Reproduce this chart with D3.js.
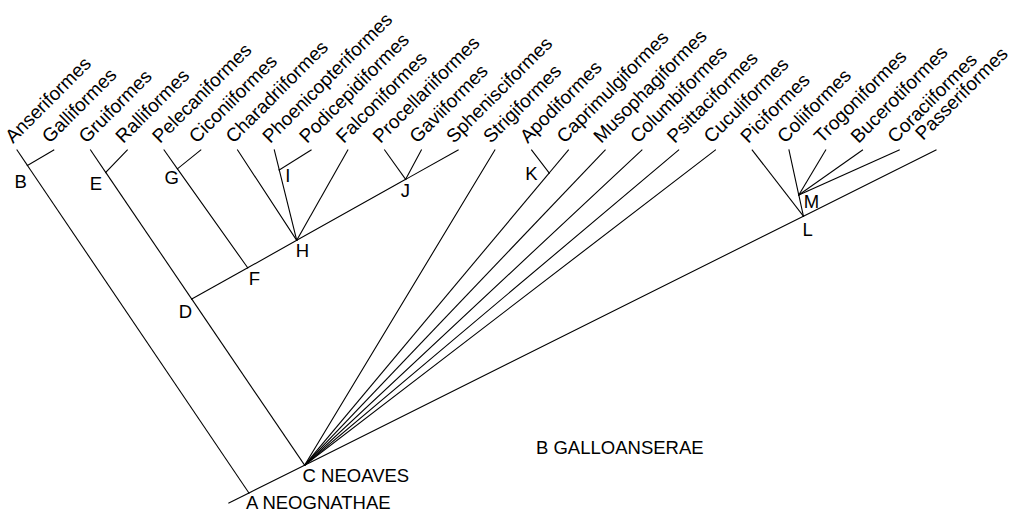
<!DOCTYPE html>
<html>
<head>
<meta charset="utf-8">
<script src="https://cdn.jsdelivr.net/npm/d3@7"></script>
<style>
  html, body { margin: 0; padding: 0; background: #fff; }
  svg { display: block; }
  text { font-family: "Liberation Sans", Arial, Helvetica, sans-serif; fill: #000; }
</style>
</head>
<body>
<svg id="chart" width="1012" height="514"></svg>
<script>
// ---------- DATA ----------
// Terminal taxa, left to right (tip index = position in this list)
const tipNames = [
  "Anseriformes","Galliformes","Gruiformes","Ralliformes","Pelecaniformes",
  "Ciconiiformes","Charadriiformes","Phoenicopteriformes","Podicepidiformes",
  "Falconiformes","Procellariiformes","Gaviiformes","Sphenisciformes",
  "Strigiformes","Apodiformes","Caprimulgiformes","Musophagiformes",
  "Columbiformes","Psittaciformes","Cuculiformes","Piciformes","Coliiformes",
  "Trogoniformes","Bucerotiformes","Coraciiformes","Passeriformes"
];
// Parent node of each tip (parallel to tipNames)
const tipParents = [
  "B","B","E","E","G","G","H","I","I","H","J","J","J",
  "C","K","K","C","C","C","C","L","M","M","M","M","L"
];
// Internal nodes
const nodeNames   = ["A","B","C","D","E","F","G","H","I","J","K","L","M"];
const nodeParents = [null,"A","A","C","D","D","F","F","H","H","C","C","L"];
// Each internal node sits on the branch from its parent toward this tip ...
const nodeToward  = [null,"Anseriformes","Passeriformes","Gruiformes","Gruiformes",
  "Sphenisciformes","Pelecaniformes","Sphenisciformes","Phoenicopteriformes",
  "Sphenisciformes","Caprimulgiformes","Passeriformes","Coliiformes"];
// ... at this fraction of that branch's length
const nodeFraction = [null,0.955,0.081,0.527,0.85,0.21,0.84,0.233,0.78,0.675,0.927,0.79,0.32];
// Node labels
const nodeLabels = ["A NEOGNATHAE","B","C NEOAVES","D","E","F","G","H","I","J","K","L","M"];
// Root position (tip-index units; relative depth 0 = tips, 1 = root)
const rootTipIndex = 6.31;
const rootDepth = 1;
// Stem below the root, as fraction of root->Passeriformes branch (negative = behind root)
const stemFraction = -0.03;
const stemToward = "Passeriformes";
// Free-standing annotation
const notes = ["B GALLOANSERAE"];

// ---------- LAYOUT / STYLE ----------
const W = 1012, H = 514;
const x = d3.scaleLinear().domain([0, tipNames.length - 1]).range([17, 936]);
const y = d3.scaleLinear().domain([0, 1]).range([150, 493]);

const labelOffsets = {
  A: [-3, 16], B: [-13, 23], C: [-2, 17], D: [-13, 19], E: [-16, 18],
  F: [1, 17], G: [-13, 15], H: [-1, 17], I: [6, 12], J: [-5, 18],
  K: [-24, 7], L: [-1, 20], M: [5, 13]
};
const notePos = [[536, 454]];
const tipLabelOffset = [-4, -6];
const tipLabelOffsetOverride = { "Passeriformes": [-13, -9] };
const tipFontSize = 19;
const nodeFontSize = 18.5;

// ---------- COMPUTE POSITIONS (data units: [tipIndex, depth]) ----------
const pos = {};
tipNames.forEach((n, i) => { pos[n] = [i, 0]; });
pos["A"] = [rootTipIndex, rootDepth];
function resolve(name) {
  if (pos[name]) return pos[name];
  const k = nodeNames.indexOf(name);
  const p = resolve(nodeParents[k]);
  const t = pos[nodeToward[k]];
  const f = nodeFraction[k];
  pos[name] = [p[0] + f * (t[0] - p[0]), p[1] + f * (t[1] - p[1])];
  return pos[name];
}
nodeNames.forEach(resolve);

const edges = [];
nodeNames.forEach((n, k) => { if (nodeParents[k]) edges.push([nodeParents[k], n]); });
tipNames.forEach((n, i) => edges.push([tipParents[i], n]));

const svg = d3.select("#chart");
svg.append("rect").attr("width", W).attr("height", H).attr("fill", "#fff");

const g = svg.append("g");
const line = d3.line().x(d => x(d[0])).y(d => y(d[1]));

// stem
const r = pos["A"], st = pos[stemToward];
const stemStart = [r[0] + stemFraction * (st[0] - r[0]), r[1] + stemFraction * (st[1] - r[1])];
g.append("path").attr("d", line([stemStart, r]))
  .attr("fill", "none").attr("stroke", "#000").attr("stroke-width", 1.1);

g.selectAll("path.edge").data(edges).join("path")
  .attr("class", "edge")
  .attr("d", d => line([pos[d[0]], pos[d[1]]]))
  .attr("fill", "none").attr("stroke", "#000").attr("stroke-width", 1.1)
  .attr("stroke-linecap", "square");

// tip labels
g.selectAll("text.tip").data(tipNames).join("text")
  .attr("class", "tip")
  .attr("transform", d => {
    const o = tipLabelOffsetOverride[d] || tipLabelOffset;
    return `translate(${x(pos[d][0]) + o[0]},${y(pos[d][1]) + o[1]}) rotate(-45)`;
  })
  .attr("font-size", tipFontSize)
  .text(d => d);

// node labels
g.selectAll("text.node").data(nodeNames).join("text")
  .attr("class", "node")
  .attr("x", d => x(pos[d][0]) + labelOffsets[d][0])
  .attr("y", d => y(pos[d][1]) + labelOffsets[d][1])
  .attr("font-size", nodeFontSize)
  .text((d, i) => nodeLabels[i]);

// notes
g.selectAll("text.note").data(notes).join("text")
  .attr("class", "note")
  .attr("x", (d, i) => notePos[i][0])
  .attr("y", (d, i) => notePos[i][1])
  .attr("font-size", nodeFontSize)
  .text(d => d);
</script>
</body>
</html>
